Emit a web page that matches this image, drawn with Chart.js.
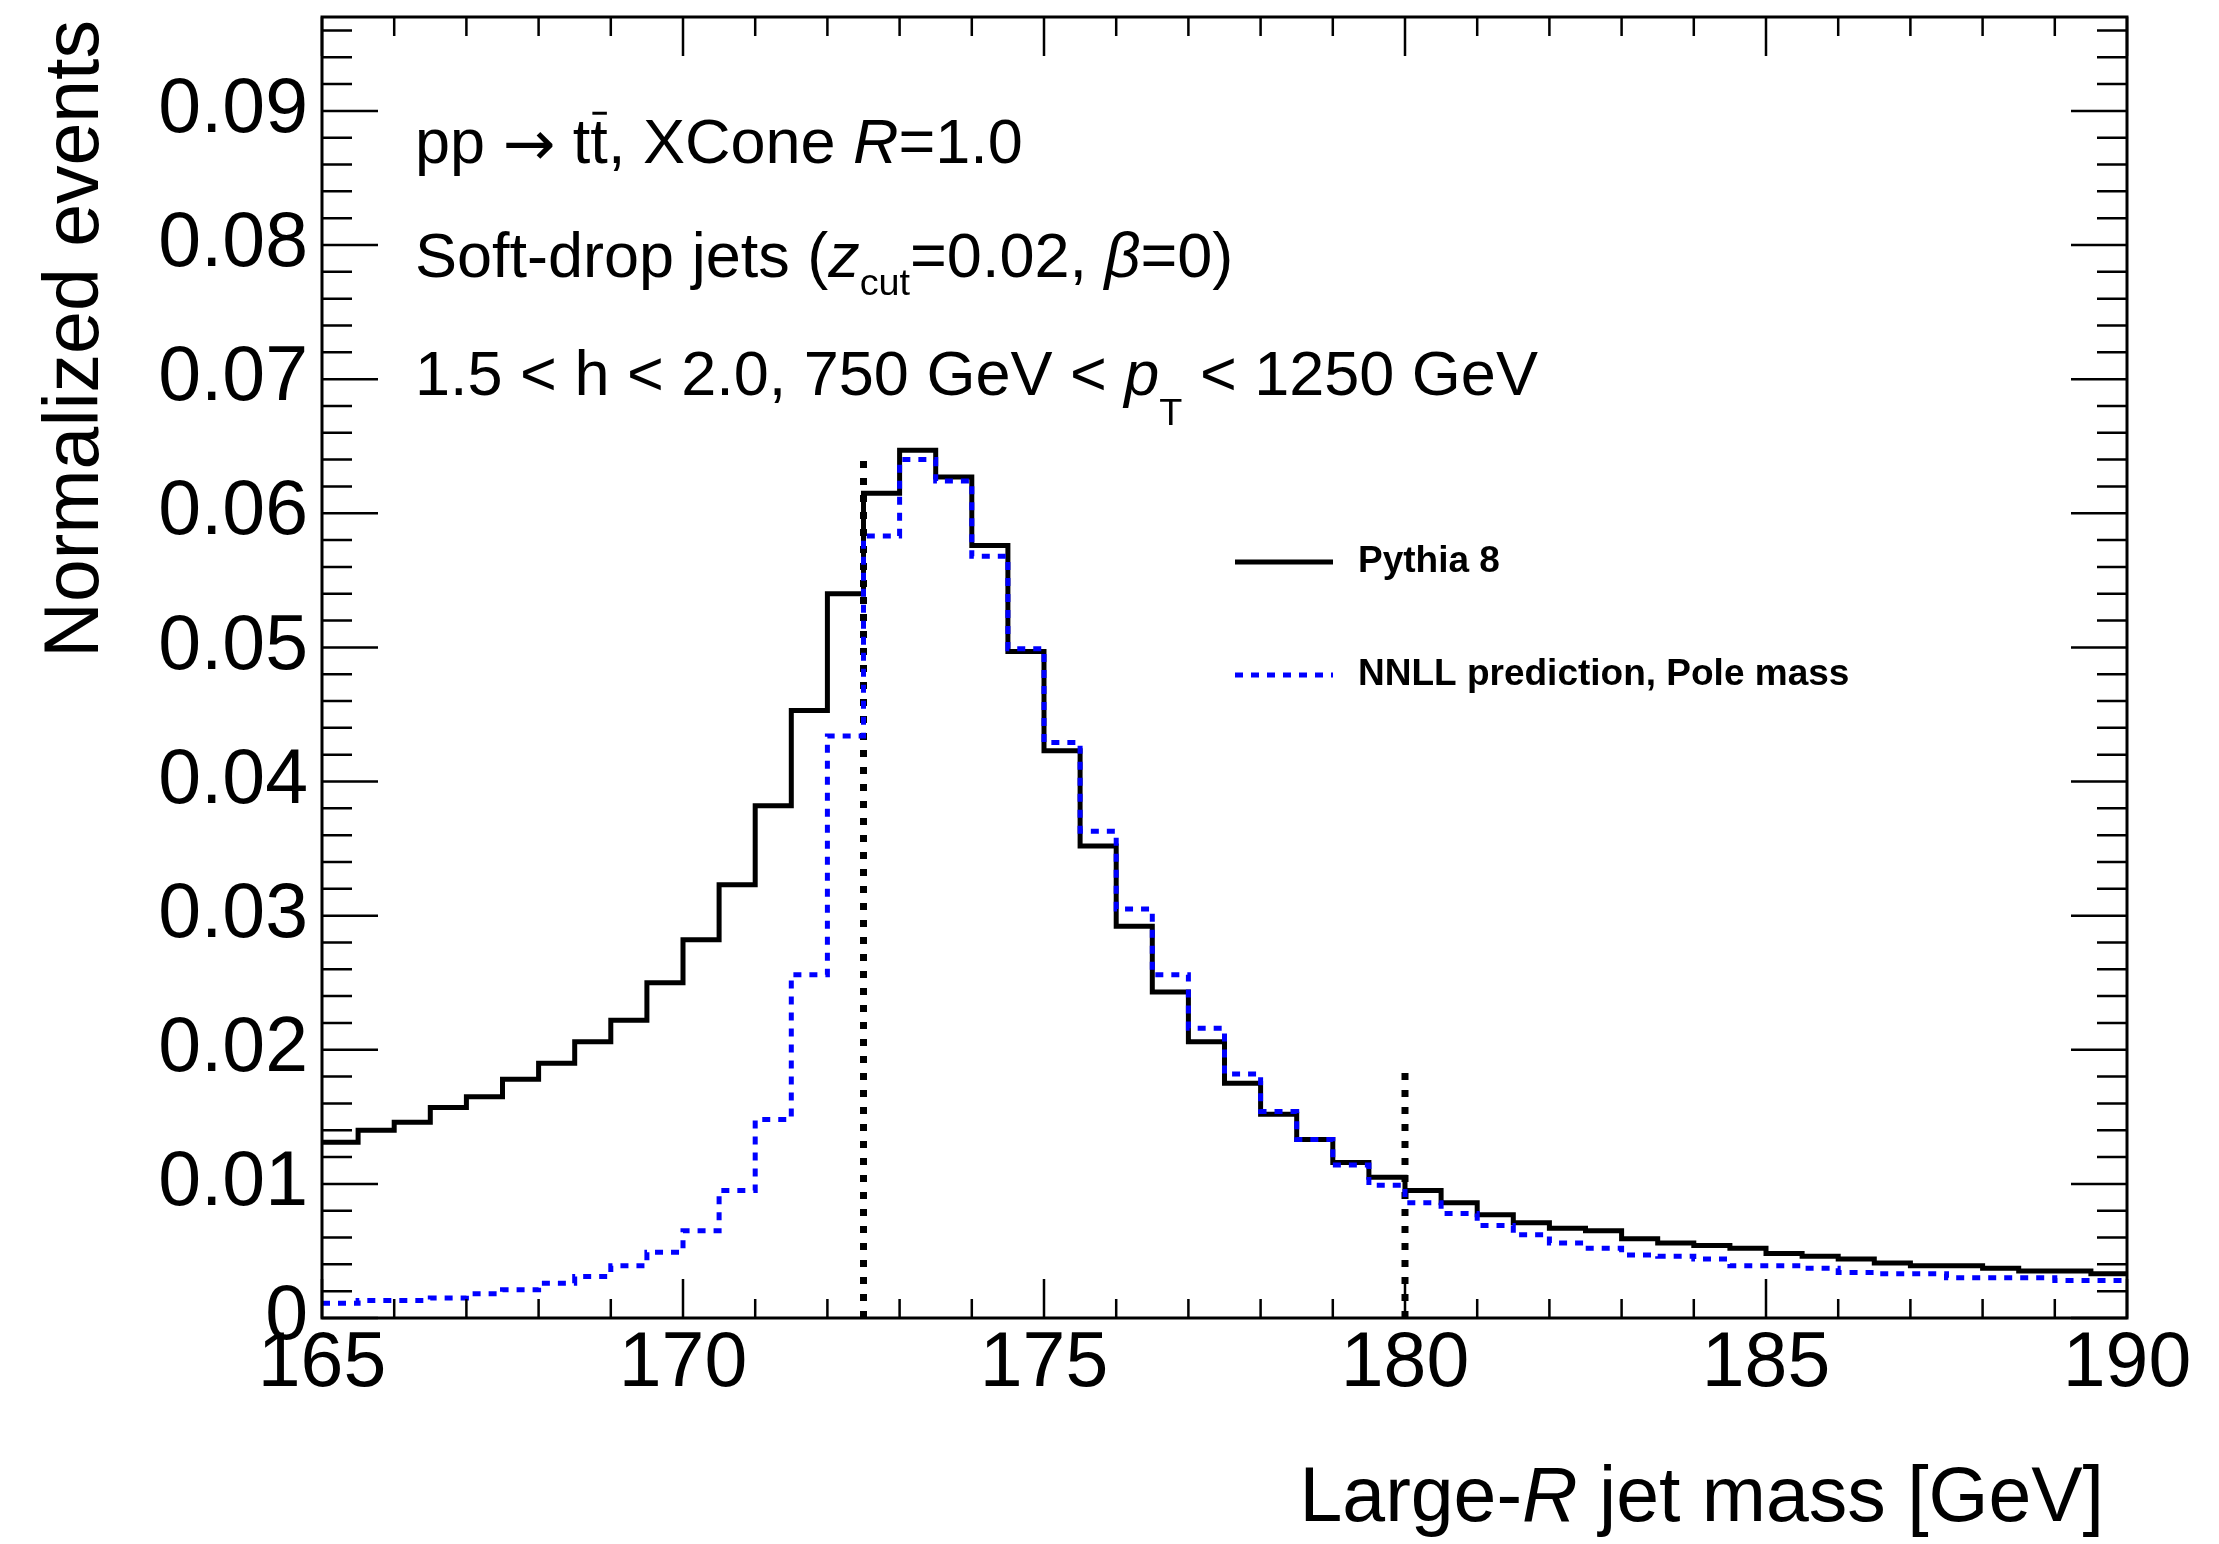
<!DOCTYPE html>
<html>
<head>
<meta charset="utf-8">
<script src="https://cdn.jsdelivr.net/npm/chart.js@4.4.1/dist/chart.umd.min.js"></script>
<style>
  html, body { margin: 0; padding: 0; background: #fff; }
  canvas { display: block; }
</style>
</head>
<body>
<canvas id="massChart" width="2219" height="1544"></canvas>
<script>
const FONT = '"Liberation Sans", Arial, Helvetica, sans-serif';

// low edges of the 0.5 GeV bins
const binLow = [
  165, 165.5, 166, 166.5, 167, 167.5, 168, 168.5, 169, 169.5,
  170, 170.5, 171, 171.5, 172, 172.5, 173, 173.5, 174, 174.5,
  175, 175.5, 176, 176.5, 177, 177.5, 178, 178.5, 179, 179.5,
  180, 180.5, 181, 181.5, 182, 182.5, 183, 183.5, 184, 184.5,
  185, 185.5, 186, 186.5, 187, 187.5, 188, 188.5, 189, 189.5
];
const binHigh = 190;

const pythia8 = [
  0.0131, 0.0140, 0.0146, 0.0157, 0.0165, 0.0178, 0.0190, 0.0206, 0.0222, 0.0250,
  0.0282, 0.0323, 0.0382, 0.0453, 0.0540, 0.0615, 0.0647, 0.0627, 0.0576, 0.0497,
  0.0423, 0.0352, 0.0292, 0.0243, 0.0206, 0.0175, 0.0152, 0.0133, 0.0116, 0.0105,
  0.0095, 0.0086, 0.0077, 0.0071, 0.0067, 0.0065, 0.0059, 0.0056, 0.0054, 0.0052,
  0.0048, 0.0046, 0.0044, 0.0041, 0.0039, 0.0039, 0.0037, 0.0035, 0.0035, 0.0033
];
const nnllPole = [
  0.0011, 0.0013, 0.0013, 0.0015, 0.0018, 0.0021, 0.0026, 0.0031, 0.0039, 0.0049,
  0.0065, 0.0095, 0.0148, 0.0256, 0.0434, 0.0583, 0.0640, 0.0624, 0.0568, 0.0499,
  0.0429, 0.0363, 0.0305, 0.0256, 0.0216, 0.0182, 0.0154, 0.0133, 0.0114, 0.0099,
  0.0086, 0.0078, 0.0069, 0.0062, 0.0056, 0.0052, 0.0047, 0.0046, 0.0044, 0.0039,
  0.0039, 0.0037, 0.0034, 0.0033, 0.0033, 0.0030, 0.0030, 0.0030, 0.0028, 0.0028
];

// vertical dotted marker lines
const markerMass = [172.5, 180];
const markerTop = [0.0645, 0.0185];

const xTicks = [165, 170, 175, 180, 185, 190];
const yTicks = [0, 0.01, 0.02, 0.03, 0.04, 0.05, 0.06, 0.07, 0.08, 0.09];
const seriesLabels = ['Pythia 8', 'NNLL prediction, Pole mass'];

function histPoints(values) {
  const pts = binLow.map((x, i) => ({ x: x, y: values[i] }));
  pts.push({ x: binHigh, y: values[values.length - 1] });
  return pts;
}

// text pieces: it = italic, sub = subscript drop, bar = overline, fam = other font
function partFont(p, size) {
  const s = p.sub ? size * 0.6 : size;
  return (p.it ? 'italic ' : '') + s + 'px ' + (p.fam || FONT);
}
function richWidth(ctx, parts, size) {
  let w = 0;
  for (const p of parts) {
    ctx.font = partFont(p, size);
    w += ctx.measureText(p.t).width;
  }
  return w;
}
function drawRich(ctx, x, y, parts, size) {
  for (const p of parts) {
    const s = p.sub ? size * 0.6 : size;
    ctx.font = partFont(p, size);
    const yy = y + (p.sub || 0) + (p.dy || 0);
    ctx.fillText(p.t, x, yy);
    const w = ctx.measureText(p.t).width;
    if (p.bar) {
      ctx.lineWidth = 3;
      ctx.beginPath();
      ctx.moveTo(x + 2, yy - s * 0.79);
      ctx.lineTo(x + w - 1, yy - s * 0.79);
      ctx.stroke();
    }
    x += w;
  }
}

const annotations = [
  { y: 163, parts: [{ t: 'pp ' }, { t: '\u2192', fam: '"DejaVu Sans", sans-serif', dy: 2 }, { t: ' t' }, { t: 't', bar: true }, { t: ', XCone ' }, { t: 'R', it: true }, { t: '=1.0' }] },
  { y: 277, parts: [{ t: 'Soft-drop jets (' }, { t: 'z', it: true }, { t: 'cut', sub: 18 }, { t: '=0.02, ' }, { t: '\u03b2', it: true }, { t: '=0)' }] },
  { y: 395, parts: [{ t: '1.5 < h < 2.0, 750 GeV < ' }, { t: 'p', it: true }, { t: 'T', sub: 30 }, { t: ' < 1250 GeV' }] }
];

const rootFrame = {
  id: 'rootFrame',
  afterDraw(chart) {
    const { ctx, chartArea: a } = chart;
    const x = chart.scales.x, y = chart.scales.y;
    ctx.save();
    ctx.strokeStyle = '#000';
    ctx.fillStyle = '#000';

    // ticks on all four sides
    ctx.lineWidth = 2.5;
    ctx.beginPath();
    const nx = Math.round(x.max - x.min);
    for (let i = 0; i <= nx; i++) {
      const px = x.getPixelForValue(x.min + i);
      const len = i % 5 === 0 ? 39 : 19;
      ctx.moveTo(px, a.bottom); ctx.lineTo(px, a.bottom - len);
      ctx.moveTo(px, a.top); ctx.lineTo(px, a.top + len);
    }
    const ny = Math.floor(y.max / 0.002 + 1e-9);
    for (let i = 0; i <= ny; i++) {
      const py = y.getPixelForValue(i * 0.002);
      const len = i % 5 === 0 ? 56 : 30;
      ctx.moveTo(a.left, py); ctx.lineTo(a.left + len, py);
      ctx.moveTo(a.right, py); ctx.lineTo(a.right - len, py);
    }
    ctx.stroke();

    ctx.lineWidth = 3;
    ctx.strokeRect(a.left, a.top, a.right - a.left, a.bottom - a.top);

    // axis titles
    ctx.textBaseline = 'alphabetic';
    const xTitle = [{ t: 'Large-' }, { t: 'R', it: true }, { t: ' jet mass [GeV]' }];
    drawRich(ctx, 2104 - richWidth(ctx, xTitle, 77), 1521, xTitle, 77);

    ctx.save();
    ctx.translate(98, a.top + 3);
    ctx.rotate(-Math.PI / 2);
    ctx.textAlign = 'right';
    ctx.font = '77px ' + FONT;
    ctx.fillText('Normalized events', 0, 0);
    ctx.restore();

    // text block
    ctx.textAlign = 'left';
    for (const line of annotations) drawRich(ctx, 415, line.y, line.parts, 63);

    // legend
    const legendY = [562, 675];
    ctx.textBaseline = 'middle';
    ctx.font = 'bold 37px ' + FONT;
    seriesLabels.forEach((label, i) => {
      const ds = chart.data.datasets[i];
      ctx.save();
      ctx.strokeStyle = ds.borderColor;
      ctx.lineWidth = ds.borderWidth;
      ctx.setLineDash(ds.borderDash || []);
      ctx.beginPath();
      ctx.moveTo(1235, legendY[i]);
      ctx.lineTo(1333, legendY[i]);
      ctx.stroke();
      ctx.restore();
      ctx.fillText(label, 1358, legendY[i]);
    });
    ctx.restore();
  }
};

const datasets = [
  {
    label: seriesLabels[0],
    data: histPoints(pythia8),
    borderColor: '#000000',
    borderWidth: 5,
    stepped: 'before',
    order: 2
  },
  {
    label: seriesLabels[1],
    data: histPoints(nnllPole),
    borderColor: '#0000ff',
    borderWidth: 5,
    borderDash: [8, 8],
    stepped: 'before',
    order: 1
  }
];
markerMass.forEach((m, i) => {
  datasets.push({
    label: 'marker' + i,
    data: [{ x: m, y: 0 }, { x: m, y: markerTop[i] }],
    borderColor: '#000000',
    borderWidth: 7,
    borderDash: [7, 10],
    order: 3
  });
});

new Chart(document.getElementById('massChart'), {
  type: 'line',
  data: { datasets: datasets },
  options: {
    responsive: false,
    devicePixelRatio: 1,
    animation: false,
    layout: { padding: { top: 17, right: 92, left: 0, bottom: 0 } },
    elements: { point: { radius: 0 }, line: { tension: 0, fill: false } },
    plugins: { legend: { display: false }, tooltip: { enabled: false } },
    scales: {
      x: {
        type: 'linear',
        min: 165,
        max: 190,
        grid: { display: false, drawTicks: false },
        border: { display: false },
        afterBuildTicks: s => { s.ticks = xTicks.map(v => ({ value: v })); },
        afterFit: s => { s.height = 226; s.paddingLeft = 0; s.paddingRight = 0; },
        ticks: {
          autoSkip: false,
          maxRotation: 0,
          padding: 1,
          color: '#000',
          font: { family: FONT, size: 77 },
          callback: v => String(v)
        }
      },
      y: {
        type: 'linear',
        min: 0,
        max: 0.097,
        grid: { display: false, drawTicks: false },
        border: { display: false },
        afterBuildTicks: s => { s.ticks = yTicks.map(v => ({ value: v })); },
        afterFit: s => { s.width = 322; s.paddingTop = 0; s.paddingBottom = 0; },
        ticks: {
          autoSkip: false,
          padding: 14,
          color: '#000',
          font: { family: FONT, size: 77 },
          callback: v => (v === 0 ? '0' : v.toFixed(2))
        }
      }
    }
  },
  plugins: [rootFrame]
});
</script>
</body>
</html>
